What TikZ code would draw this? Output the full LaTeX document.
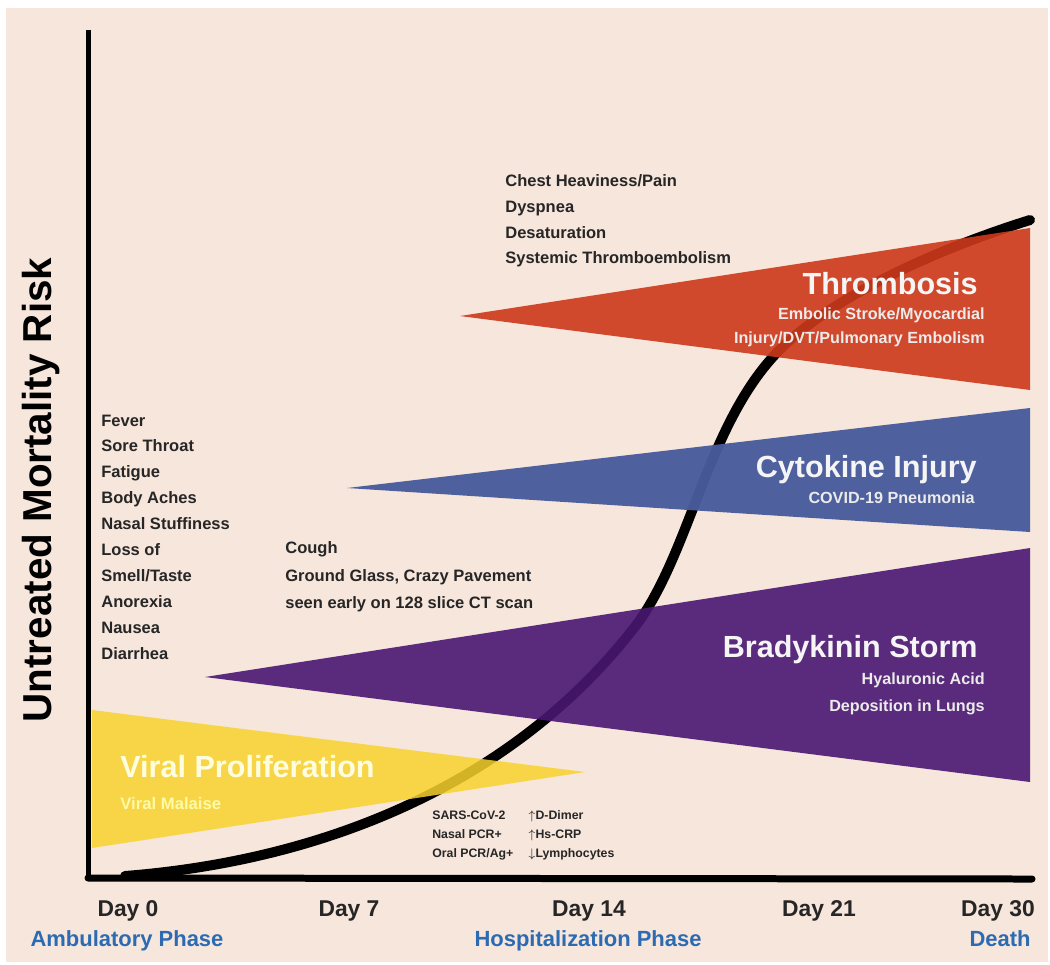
\documentclass[tikz,border=0pt]{standalone}
\usepackage{fontspec}
\setmainfont{Liberation Sans}
\usetikzlibrary{positioning}
\definecolor{peach}{HTML}{F7E6DC}
\definecolor{viralyellow}{HTML}{F7D32D}
\definecolor{bradypurple}{HTML}{4A1772}
\definecolor{cytoblue}{HTML}{485B9C}
\definecolor{thromred}{HTML}{CD391A}
\definecolor{phaseblue}{HTML}{2C6BB2}
\definecolor{inkgray}{HTML}{262626}

\begin{document}
\begin{tikzpicture}[x=0.02cm, y=-0.02cm,
    symptom/.style={anchor=base west, inner sep=0pt, text=inkgray, font=\fontsize{9.4}{11}\selectfont\bfseries},
    labnote/.style={anchor=base west, inner sep=0pt, text=inkgray, font=\fontsize{7}{8}\selectfont\bfseries},
    stagetitle/.style={anchor=base east, inner sep=0pt, text=white!96!black, font=\fontsize{17.4}{21}\selectfont\bfseries},
    stagenote/.style={anchor=base east, inner sep=0pt, text=white!92!black, font=\fontsize{9.2}{11}\selectfont\bfseries},
    daylabel/.style={anchor=base, inner sep=0pt, text=inkgray, font=\fontsize{13}{15}\selectfont\bfseries},
    phaselabel/.style={anchor=base, inner sep=0pt, text=phaseblue, font=\fontsize{12.5}{15}\selectfont\bfseries}]
    %
    \fill[white] (0,0) rectangle (1050,964);
    \fill[peach] (6,8) rectangle (1048,962);
    \useasboundingbox (0,0) rectangle (1050,964);
    %
    % mortality curve
    \coordinate (cStart) at (125,876);
    \coordinate (cMidA) at (640,620);
    \coordinate (cMidB) at (790,340);
    \coordinate (cEnd) at (1030,220);
    \draw[line width=2mm, line cap=round] (cStart) .. controls (330,860) and (520,780) .. (cMidA)
        .. controls (695,540) and (710,410) .. (cMidB)
        .. controls (850,287) and (950,245) .. (cEnd);
    %
    \coordinate (yTop) at (92,710);
    \coordinate (yBot) at (92,848);
    \coordinate (yTip) at (585,772);
    \fill[viralyellow, opacity=0.85] (yTop) -- (yTip) -- (yBot) -- cycle;
    %
    \coordinate (pTop) at (1030,548);
    \coordinate (pBot) at (1030,782);
    \coordinate (pTip) at (205,677);
    \fill[bradypurple, opacity=0.9] (pTip) -- (pTop) -- (pBot) -- cycle;
    %
    \coordinate (bTop) at (1030,408);
    \coordinate (bBot) at (1030,532);
    \coordinate (bTip) at (347,488);
    \fill[cytoblue, opacity=0.96] (bTip) -- (bTop) -- (bBot) -- cycle;
    %
    \coordinate (rTop) at (1030,228);
    \coordinate (rBot) at (1030,390);
    \coordinate (rTip) at (460,316);
    \fill[thromred, opacity=0.9] (rTip) -- (rTop) -- (rBot) -- cycle;
    %
    % axes
    \coordinate (origin) at (88,878);
    \coordinate (yEnd) at (88,30);
    \coordinate (xEnd) at (1032,879);
    \draw[line width=1mm] (yEnd) -- (origin);
    \draw[line width=1.4mm, line cap=round] (origin) -- (xEnd);
    \node[rotate=90, inner sep=0pt, font=\fontsize{23}{26}\selectfont\bfseries] (riskLabel) at (41,490) {Untreated Mortality Risk};
    %
    \foreach \d/\x in {0/128, 7/349, 14/589, 21/819, 30/998}
      \node[daylabel] (day\d) at (\x,916) {Day \d};
    \node[phaselabel] (ambulatory) at (127,946) {Ambulatory Phase};
    \node[phaselabel] (hospital) at (588,946) {Hospitalization Phase};
    \node[phaselabel] (death) at (1000,946) {Death};
    %
    % stage titles
    \node[anchor=base west, inner sep=0pt, text=yellow!12!white, font=\fontsize{17.4}{21}\selectfont\bfseries] (viralTitle) at (120,777) {Viral Proliferation};
    \node[anchor=base west, inner sep=0pt, text=yellow!35!white, font=\fontsize{9.5}{11}\selectfont\bfseries] (viralNote) at (120,809) {Viral Malaise};
    \node[stagetitle] (bradyTitle) at (978,657) {Bradykinin Storm};
    \node[stagenote] (bradyNoteA) at (985,684) {Hyaluronic Acid};
    \node[stagenote] (bradyNoteB) at (985,711) {Deposition in Lungs};
    \node[stagetitle] (cytoTitle) at (977,477) {Cytokine Injury};
    \node[stagenote] (cytoNote) at (975,503) {COVID-19 Pneumonia};
    \node[stagetitle] (thromTitle) at (978,294) {Thrombosis};
    \node[stagenote] (thromNoteA) at (985,319) {Embolic Stroke/Myocardial};
    \node[stagenote] (thromNoteB) at (985,343) {Injury/DVT/Pulmonary Embolism};
    %
    % symptoms
    \foreach \s [count=\i] in {Fever, Sore Throat, Fatigue, Body Aches, Nasal Stuffiness, Loss of, Smell/Taste, Anorexia, Nausea, Diarrhea}
      \node[symptom] (sym\i) at (101, {426+25.9*(\i-1)}) {\s};
    \node[symptom] (cough) at (285,553) {Cough};
    \node[symptom] (glass) at (285,581) {Ground Glass, Crazy Pavement};
    \node[symptom] (ctScan) at (285,608) {seen early on 128 slice CT scan};
    \node[symptom] (chest) at (505,186) {Chest Heaviness/Pain};
    \node[symptom] (dyspnea) at (505,212) {Dyspnea};
    \node[symptom] (desat) at (505,238) {Desaturation};
    \node[symptom] (embol) at (505,263) {Systemic Thromboembolism};
    %
    % lab findings
    \node[labnote] (sars) at (432,819.5) {SARS-CoV-2};
    \node[labnote] (nasal) at (432,838) {Nasal PCR+};
    \node[labnote] (oral) at (432,857.5) {Oral PCR/Ag+};
    \node[labnote] (dimer) at (528,819.5) {$\uparrow$D-Dimer};
    \node[labnote] (crp) at (528,838) {$\uparrow$Hs-CRP};
    \node[labnote] (lympho) at (528,857.5) {$\downarrow$Lymphocytes};
\end{tikzpicture}
\end{document}
